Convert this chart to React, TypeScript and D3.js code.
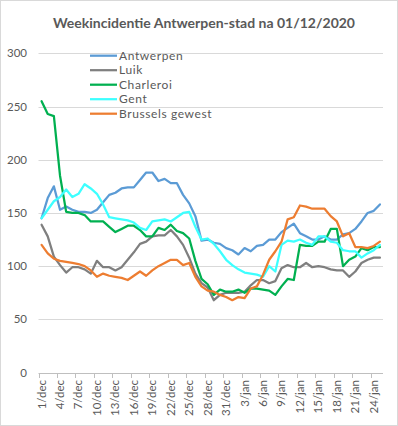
import React from "react";
import * as d3 from "d3";

const categories = [
  "1/dec","2/dec","3/dec","4/dec","5/dec","6/dec","7/dec","8/dec","9/dec","10/dec",
  "11/dec","12/dec","13/dec","14/dec","15/dec","16/dec","17/dec","18/dec","19/dec","20/dec",
  "21/dec","22/dec","23/dec","24/dec","25/dec","26/dec","27/dec","28/dec","29/dec","30/dec",
  "31/dec","1/jan","2/jan","3/jan","4/jan","5/jan","6/jan","7/jan","8/jan","9/jan",
  "10/jan","11/jan","12/jan","13/jan","14/jan","15/jan","16/jan","17/jan","18/jan","19/jan",
  "20/jan","21/jan","22/jan","23/jan","24/jan","25/jan",
];

const antwerpen = [
  145,164,175,153,156,153,151,151,150,153,160,167,169,173,174,174,181,188,188,180,
  182,178,178,167,159,147,124,125,122,121,117,115,111,117,114,119,120,125,125,132,
  136,140,131,128,125,125,128,125,125,130,131,135,142,150,152,158,
];
const luik = [
  139,128,109,101,94,99,99,97,93,105,99,99,96,99,106,113,121,123,128,129,
  129,134,128,120,108,93,84,80,68,73,75,75,75,76,82,87,87,84,86,98,
  101,99,99,103,99,100,99,97,96,96,90,95,103,106,108,108,
];
const charleroi = [
  255,243,241,185,151,150,150,148,142,142,142,137,132,135,138,138,134,128,128,136,
  134,139,133,131,126,105,88,83,73,78,76,76,78,75,79,79,78,77,73,81,
  88,87,120,119,119,123,123,135,135,100,106,109,117,115,118,118,
];
const gent = [
  145,153,161,165,172,165,168,177,173,168,158,146,145,144,143,141,136,134,142,143,
  144,142,146,150,151,137,125,126,121,114,106,101,97,94,93,92,90,100,95,120,
  124,123,125,122,120,128,128,123,122,115,114,114,108,112,115,120,
];
const brussel = [
  120,112,107,105,104,103,102,100,96,90,93,91,90,89,87,91,95,91,96,100,
  103,106,106,101,103,90,81,77,76,73,71,68,71,70,79,81,92,106,114,123,
  144,146,157,156,154,154,154,147,142,128,131,118,118,117,119,123,
];

const seriesNames = ["Antwerpen", "Luik", "Charleroi", "Gent", "Brussels gewest"];
const seriesValues = [antwerpen, luik, charleroi, gent, brussel];
const seriesColors = ["#5B9BD5", "#7F7F7F", "#00B050", "#3DFFFF", "#ED7D31"];
const yTicks = [0, 50, 100, 150, 200, 250, 300];
const title = "Weekincidentie Antwerpen-stad na 01/12/2020";

export default function App() {
  const W = 398, H = 426;
  const font = "Lato, 'Open Sans', sans-serif";
  const x = d3.scaleBand<number>().domain(d3.range(categories.length)).range([38.5, 383]).padding(0);
  const y = d3.scaleLinear().domain([0, 300]).range([372.6, 53.3]);
  const cx = (i: number) => (x(i) as number) + x.bandwidth() / 2;
  const line = d3.line<number>().x((_, i) => cx(i)).y((d) => y(d));
  const tickIdx = d3.range(0, categories.length, 3);
  const boundaries = d3.range(0, categories.length, 3);

  return (
    <svg width={W} height={H} style={{ position: "fixed", left: 0, top: 0, background: "#fff" }} fontFamily={font}>
      <rect x={0.5} y={0.5} width={W - 1} height={H - 1} fill="#fff" stroke="#D9D9D9" />
      <text x={204} y={28} textAnchor="middle" fontSize={14} fontWeight="bold" fill="#595959">{title}</text>
      {yTicks.map((t) => (
        <g key={t}>
          {t > 0 && <line x1={38.5} x2={383} y1={Math.round(y(t)) + 0.5} y2={Math.round(y(t)) + 0.5} stroke="#D9D9D9" />}
          <text x={27} y={y(t) + 4} textAnchor="end" fontSize={11.5} fill="#595959">{t}</text>
        </g>
      ))}
      <line x1={38.5} x2={383} y1={Math.round(y(0)) + 0.5} y2={Math.round(y(0)) + 0.5} stroke="#BFBFBF" />
      {boundaries.map((b) => (
        <line key={b} x1={Math.round(x(b) as number) + 0.5} x2={Math.round(x(b) as number) + 0.5}
          y1={Math.round(y(0))} y2={Math.round(y(0)) + 5} stroke="#BFBFBF" />
      ))}
      {tickIdx.map((i) => (
        <text key={i} transform={`translate(${cx(i) + 4},${380}) rotate(-90)`} textAnchor="end"
          fontSize={11.5} fill="#595959">{categories[i]}</text>
      ))}
      {seriesValues.map((vals, s) => (
        <path key={s} d={line(vals) as string} fill="none" stroke={seriesColors[s]} strokeWidth={2.25}
          strokeLinejoin="round" strokeLinecap="round" />
      ))}
      {seriesNames.map((n, s) => {
        const ly = 55.7 + s * 14.5;
        return (
          <g key={n}>
            <line x1={90} x2={117} y1={ly} y2={ly} stroke={seriesColors[s]} strokeWidth={2.25} />
            <text x={119} y={ly + 4} fontSize={12} fill="#595959" letterSpacing={0.6}>{n}</text>
          </g>
        );
      })}
    </svg>
  );
}
